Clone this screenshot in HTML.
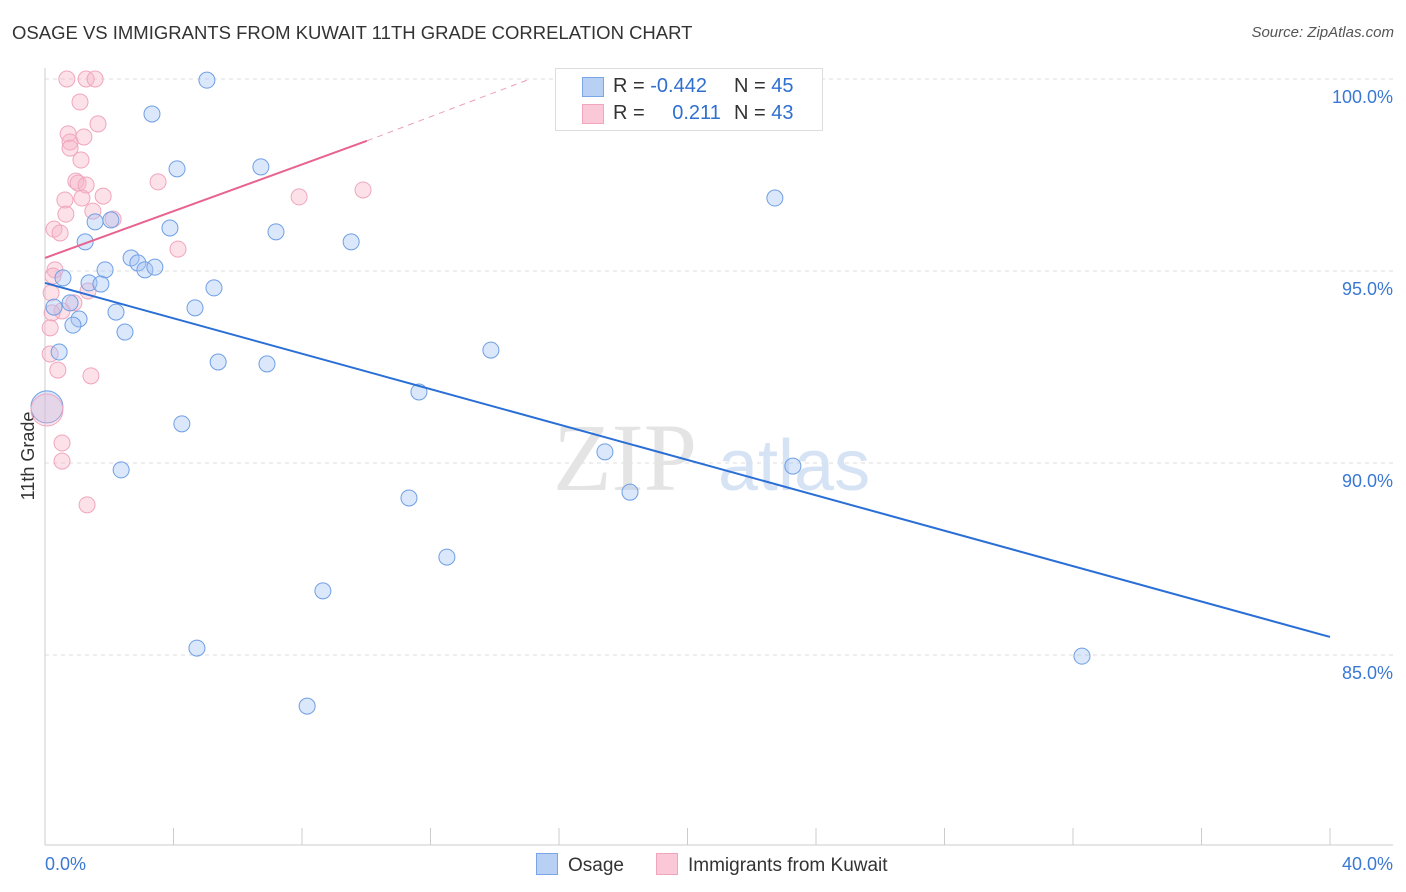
<!DOCTYPE html>
<html><head><meta charset="utf-8"><style>
body{margin:0;background:#fff;font-family:"Liberation Sans",sans-serif;}
#wrap{position:relative;width:1406px;height:892px;overflow:hidden;}
.t{position:absolute;white-space:nowrap;}
</style></head><body>
<div id="wrap">
<div class="t" style="left:12px;top:22px;font-size:18.5px;color:#333;">OSAGE VS IMMIGRANTS FROM KUWAIT 11TH GRADE CORRELATION CHART</div>
<div class="t" style="right:12px;top:24px;font-size:15px;color:#555;font-style:italic;">Source: ZipAtlas.com</div>
<svg id="svg" width="1406" height="892" style="position:absolute;left:0;top:0"></svg>
</div>
<script>
const xTicks=[0,4,8,12,16,20,24,28,32,36,40];
const yTicks=[85,90,95,100];
const yTickLabels=["85.0%","90.0%","95.0%","100.0%"];
const osageX=[5.04,3.33,4.11,6.72,22.72,2.05,1.56,3.89,7.19,1.25,9.53,2.68,2.89,3.11,3.42,1.87,0.56,1.37,1.74,5.26,0.78,0.28,4.67,2.21,1.06,0.87,2.49,0.44,13.88,5.39,6.91,11.64,4.26,17.43,23.28,2.37,18.21,11.33,12.51,8.65,4.73,32.28,8.16];
const osageY=[99.97,99.09,97.66,97.71,96.90,96.33,96.28,96.12,96.02,95.76,95.76,95.34,95.21,95.03,95.10,95.03,94.82,94.69,94.66,94.56,94.17,94.06,94.04,93.93,93.75,93.59,93.41,92.89,92.94,92.63,92.58,91.85,91.02,90.29,89.92,89.82,89.24,89.09,87.55,86.67,85.18,84.97,83.67];
const kuwaitX=[0.68,1.28,1.56,1.09,1.65,0.72,1.21,0.78,0.78,1.12,0.96,1.03,1.28,3.52,9.90,1.81,7.91,1.15,0.62,1.49,0.65,2.12,0.28,0.47,4.14,0.31,0.25,1.34,0.19,0.90,0.53,0.22,0.16,0.16,0.40,1.43,0.53,0.53,1.31];
const kuwaitY=[100,100,100,99.40,98.83,98.57,98.49,98.36,98.20,97.89,97.34,97.29,97.24,97.32,97.11,96.95,96.93,96.90,96.85,96.56,96.48,96.35,96.09,95.99,95.57,95.03,94.87,94.48,94.43,94.17,93.96,93.91,93.52,92.84,92.42,92.27,90.52,90.05,88.91];
const bigX=[0.06,0.06];const bigY=[91.46,91.38];
const osageTrend=[[0,94.69],[40,85.47]];
const kuwaitTrend=[[0,95.34],[10.02,98.39]];
const kuwaitDash=[[10.02,98.39],[15.1,100]];

const X=v=>45+v*32.125, Y=v=>79+(100-v)*38.4;
const svg=document.getElementById('svg');
function el(tag,a,parent){const e=document.createElementNS('http://www.w3.org/2000/svg',tag);for(const k in a)e.setAttribute(k,a[k]);(parent||svg).appendChild(e);return e;}
yTicks.forEach((v,i)=>{
 const g=el('line',{x1:45,x2:1393,y1:Y(v),y2:Y(v),stroke:'#ddd','stroke-dasharray':'4,4'});
 
 
 const t=el('text',{x:1393,y:Y(v)+24,'text-anchor':'end','font-size':18,fill:'#3a78d4','font-family':'Liberation Sans'});
 t.textContent=yTickLabels[i];
 
 
});
const ax=el('line',{x1:45,x2:45,y1:68,y2:845,stroke:'#ccc'});


const bx=el('line',{x1:45,x2:1393,y1:845,y2:845,stroke:'#ccc'});


xTicks.forEach(v=>{
 const t=el('line',{x1:X(v),x2:X(v),y1:828,y2:845,stroke:'#ccc'});
 
 
});
[[0,'0.0%','start',45],[40,'40.0%','end',1393]].forEach(d=>{
 const t=el('text',{x:d[3],y:870,'text-anchor':d[2],'font-size':18,fill:'#3a78d4','font-family':'Liberation Sans'});
 t.textContent=d[1];
 
 
});
const yt=el('text',{x:34,y:456,'text-anchor':'middle','font-size':18,fill:'#333',transform:'rotate(-90 34 456)','font-family':'Liberation Sans'});
yt.textContent='11th Grade';


const w1=el('text',{x:553,y:490,'font-size':96,fill:'#e4e4e4','font-family':'Liberation Serif'});w1.textContent='ZIP';


const w2=el('text',{x:718,y:490,'font-size':72,fill:'#d6e3f5','font-family':'Liberation Sans'});w2.textContent='atlas';


function pts(xs,ys,fill,stroke,name,r){xs.forEach((x,i)=>{const c=el('circle',{cx:X(x),cy:Y(ys[i]),r:r,fill:fill,stroke:stroke,'stroke-width':1});
 
 });}
pts(kuwaitX,kuwaitY,'rgba(248,180,200,0.4)','#f0a6bd','kuwait-point',8);
pts(osageX,osageY,'rgba(164,194,244,0.4)','#6f9fe4','osage-point',8);
pts([bigX[0]],[bigY[0]],'rgba(164,194,244,0.4)','#6f9fe4','osage-point-large',16);
pts([bigX[1]],[bigY[1]],'rgba(248,180,200,0.35)','#f0a6bd','kuwait-point-large',16);
function line(p,stroke,name,dash,w){const l=el('line',{x1:X(p[0][0]),y1:Y(p[0][1]),x2:X(p[1][0]),y2:Y(p[1][1]),stroke:stroke,'stroke-width':w});if(dash)l.setAttribute('stroke-dasharray',dash);
 
 }
line(osageTrend,'#2a6fd6','osage-trend-line',null,2);
line(kuwaitTrend,'#e8638f','kuwait-trend-line',null,2);
line(kuwaitDash,'#eaa0b8','kuwait-trend-extension','6,5',1);
</script>
<div class="t" style="left:555px;top:68px;width:266px;height:61px;border:1px solid #ddd;background:#fff;font-size:20px;">
 <div style="position:absolute;left:26px;top:8px;width:20px;height:18px;background:#b8d0f4;border:1px solid #7aa6e6;"></div>
 <div style="position:absolute;left:26px;top:35px;width:20px;height:18px;background:#fac8d6;border:1px solid #f0a6bd;"></div>
 <div class="t" style="left:57px;top:6px;color:#333;">R = <span style="color:#2f6fd0">-0.442</span></div>
 <div class="t" style="left:178px;top:6px;color:#333;">N = <span style="color:#2f6fd0">45</span></div>
 <div class="t" style="left:57px;top:33px;color:#333;">R = <span style="color:#2f6fd0;margin-left:22px">0.211</span></div>
 <div class="t" style="left:178px;top:33px;color:#333;">N = <span style="color:#2f6fd0">43</span></div>
</div>
<div class="t" style="left:536px;top:853px;font-size:19px;color:#333;"><span style="display:inline-block;width:20px;height:20px;background:#b8d0f4;border:1px solid #7aa6e6;vertical-align:-4px;margin-right:10px"></span>Osage</div>
<div class="t" style="left:656px;top:853px;font-size:19px;color:#333;"><span style="display:inline-block;width:20px;height:20px;background:#fac8d6;border:1px solid #f0a6bd;vertical-align:-4px;margin-right:10px"></span>Immigrants from Kuwait</div>
</body></html>
